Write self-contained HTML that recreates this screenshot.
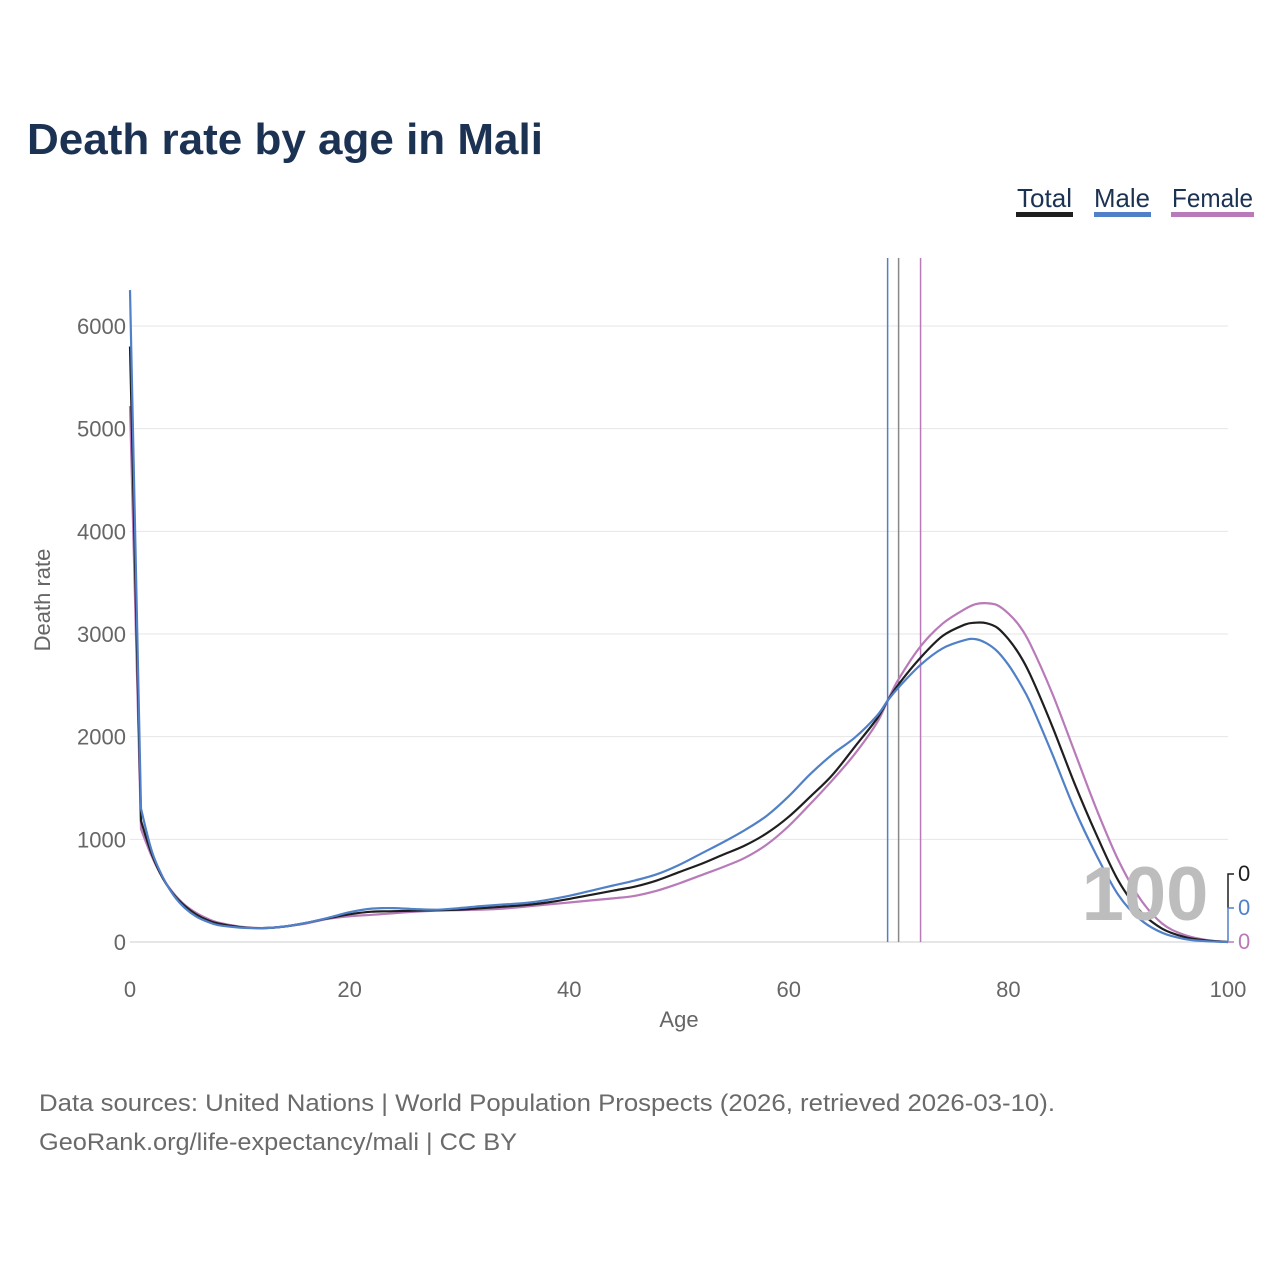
<!DOCTYPE html>
<html><head><meta charset="utf-8"><style>
body{margin:0;background:#fff;width:1280px;height:1280px;overflow:hidden;font-family:"Liberation Sans",sans-serif}
</style></head><body>
<svg id="chart" width="1280" height="1280" xmlns="http://www.w3.org/2000/svg">
<text x="27" y="154" font-size="44" font-weight="bold" fill="#1b3253" textLength="516" lengthAdjust="spacingAndGlyphs">Death rate by age in Mali</text>
<g font-size="26" fill="#1b3253">
 <g><text x="1017" y="207" textLength="55" lengthAdjust="spacingAndGlyphs">Total</text><rect x="1016" y="212" width="57" height="5" fill="#1f1f1f"/></g>
 <g><text x="1094" y="207" textLength="56" lengthAdjust="spacingAndGlyphs">Male</text><rect x="1094" y="212" width="57" height="5" fill="#5080c8"/></g>
 <g><text x="1172" y="207" textLength="81" lengthAdjust="spacingAndGlyphs">Female</text><rect x="1171" y="212" width="83" height="5" fill="#b87ab8"/></g>
</g>
<g id="grid"></g>
<g id="axes"></g>
<g id="marks"></g>
<text x="1145" y="920" font-size="76" font-weight="bold" fill="#bdbdbd" text-anchor="middle">100</text>
<g id="endlabels"></g>
<text x="679" y="1027" font-size="22" fill="#666" text-anchor="middle">Age</text>
<text transform="translate(50,600) rotate(-90)" font-size="22" fill="#666" text-anchor="middle">Death rate</text>
<text x="39" y="1111" font-size="24" fill="#6a6a6a" textLength="1016" lengthAdjust="spacingAndGlyphs">Data sources: United Nations | World Population Prospects (2026, retrieved 2026-03-10).</text>
<text x="39" y="1150" font-size="24" fill="#6a6a6a" textLength="478" lengthAdjust="spacingAndGlyphs">GeoRank.org/life-expectancy/mali | CC BY</text>
</svg>
<script>
const ages=[0,1,2,3,4,5,6,7,8,10,12,14,16,18,20,22,24,26,28,30,32,34,36,38,40,42,44,46,48,50,52,54,56,58,60,62,64,66,68,69,70,72,74,76,77,78,79,80,81,82,84,86,88,90,92,94,96,98,100];
const totalRates=[5800,1180,850,620,460,350,270,215,180,145,135,150,185,230,270,295,300,305,310,315,330,345,360,385,420,460,500,540,600,680,760,850,940,1060,1220,1420,1630,1900,2170,2350,2510,2770,2980,3090,3110,3105,3060,2950,2800,2600,2100,1550,1050,600,300,130,50,15,0];
const maleRates=[6350,1300,880,630,450,330,250,200,165,140,135,150,185,235,290,325,330,320,315,330,350,365,380,410,450,500,550,600,660,750,860,970,1090,1230,1420,1640,1830,1990,2200,2350,2480,2700,2860,2940,2950,2910,2830,2700,2530,2330,1830,1300,850,460,220,90,30,8,0];
const femaleRates=[5220,1100,830,620,470,360,285,230,190,150,135,150,180,225,250,265,280,295,305,310,315,325,345,365,385,405,425,450,500,570,650,730,820,950,1130,1350,1580,1830,2130,2350,2560,2880,3100,3240,3290,3300,3280,3200,3080,2900,2420,1860,1300,800,420,180,70,20,0];
const lifeExp=[70.0,69.0,72.0];
const seriesNames=['total','male','female'];
const yTicks=[0,1000,2000,3000,4000,5000,6000];
const xTicks=[0,20,40,60,80,100];
const colors=['#1f1f1f','#5080c8','#b87ab8'];
const NS='http://www.w3.org/2000/svg';
const x=a=>130+a*10.98;
const y=v=>942-v*0.10267;
function mk(tag,attrs,parent){const e=document.createElementNS(NS,tag);for(const k in attrs)e.setAttribute(k,attrs[k]);parent.appendChild(e);return e;}
const grid=document.getElementById('grid'),axes=document.getElementById('axes'),marks=document.getElementById('marks'),endl=document.getElementById('endlabels');
yTicks.forEach(t=>{
 const l=mk('line',{x1:130,x2:1228,y1:y(t),y2:y(t),stroke:t===0?'#ccc':'#e6e6e6','stroke-width':1},grid);
 
 
 const tx=mk('text',{x:126,y:y(t)+8,'font-size':22,fill:'#666','text-anchor':'end'},axes);tx.textContent=t;
 
 
});
xTicks.forEach(t=>{
 const tx=mk('text',{x:x(t),y:997,'font-size':22,fill:'#666','text-anchor':'middle'},axes);tx.textContent=t;
 
 
});
[1,0,2].forEach(i=>{
 const l=mk('line',{x1:x(lifeExp[i]),x2:x(lifeExp[i]),y1:258,y2:942,stroke:i===0?'#888':colors[i],'stroke-width':1.5},marks);
 
 
});
function smooth(pts){let d='M'+pts[0][0]+','+pts[0][1];for(let i=0;i<pts.length-1;i++){const p0=pts[Math.max(0,i-1)],p1=pts[i],p2=pts[i+1],p3=pts[Math.min(pts.length-1,i+2)];
 const t=i<=1?0:1/6;const c1=[p1[0]+(p2[0]-p0[0])*t,p1[1]+(p2[1]-p0[1])*t];const t2=i<=0?0:1/6;const c2=[p2[0]-(p3[0]-p1[0])*t2,p2[1]-(p3[1]-p1[1])*t2];
 d+=' C'+c1[0].toFixed(1)+','+c1[1].toFixed(1)+' '+c2[0].toFixed(1)+','+c2[1].toFixed(1)+' '+p2[0].toFixed(1)+','+p2[1].toFixed(1);}return d;}
[femaleRates,totalRates,maleRates].forEach((vals,k)=>{
 const i=[2,0,1][k];
 const p=mk('path',{d:smooth(ages.map((a,j)=>[x(a),y(vals[j])])),fill:'none',stroke:colors[i],'stroke-width':2.2},marks);
 
 
});
const lastVals=[totalRates[totalRates.length-1],maleRates[maleRates.length-1],femaleRates[femaleRates.length-1]];
const labelY=[872,906,940];
[0,1,2].forEach(i=>{
 const pl=mk('polyline',{points:`1234,${labelY[i]+2} 1228,${labelY[i]+2} 1228,${i===0?labelY[1]+2:942}`,fill:'none',stroke:colors[i],'stroke-width':1.5},endl);
 
 
 const t=mk('text',{x:1238,y:labelY[i]+9,'font-size':22,fill:colors[i]},endl);t.textContent=lastVals[i];
 
 
});
</script>
</body></html>
